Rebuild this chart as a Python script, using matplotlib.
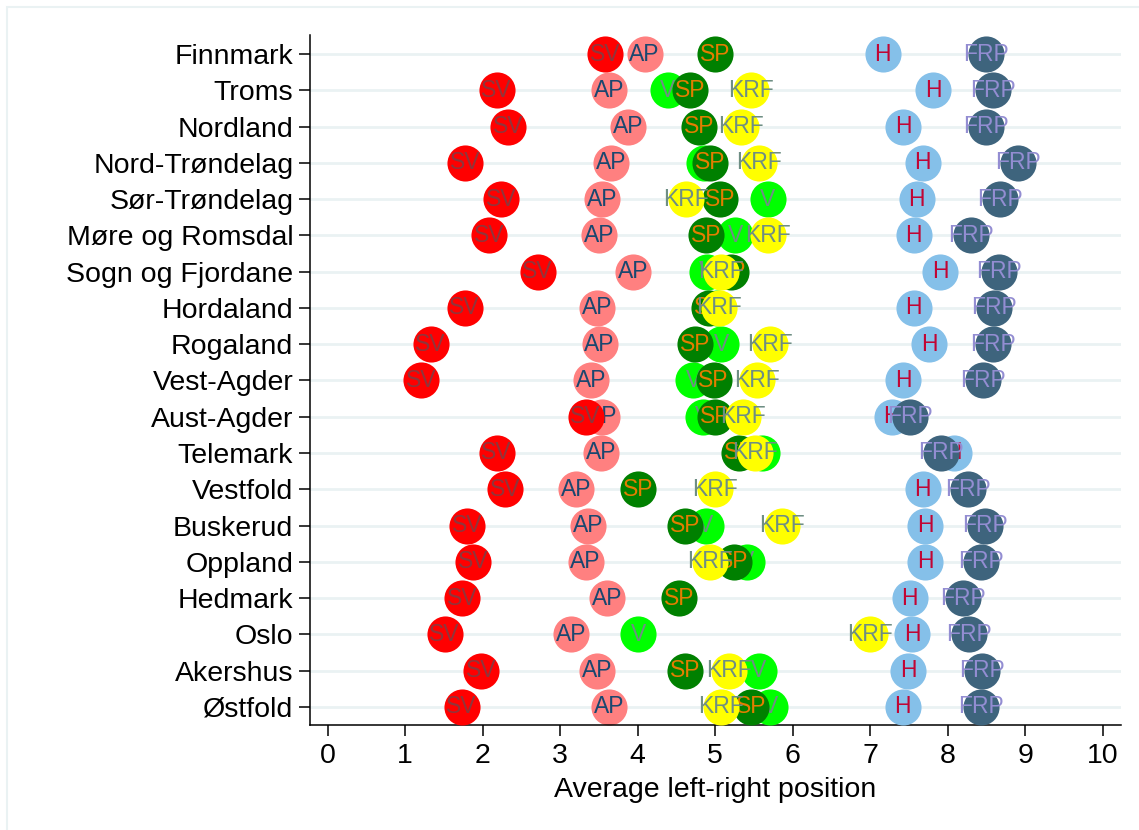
import numpy as np
import matplotlib
matplotlib.use('Agg')
import matplotlib.pyplot as plt
from matplotlib.patches import Rectangle

plt.rcParams['font.family'] = ['Liberation Sans', 'DejaVu Sans']

nan = np.nan

regions = ['Finnmark', 'Troms', 'Nordland', 'Nord-Trøndelag', 'Sør-Trøndelag',
           'Møre og Romsdal', 'Sogn og Fjordane', 'Hordaland', 'Rogaland',
           'Vest-Agder', 'Aust-Agder', 'Telemark', 'Vestfold', 'Buskerud',
           'Oppland', 'Hedmark', 'Oslo', 'Akershus', 'Østfold']

# average left-right placement per party and county
sv = [3.58, 2.18, 2.33, 1.78, 2.24, 2.08, 2.71, 1.77, 1.33, 1.21,
      3.33, 2.18, 2.29, 1.80, 1.88, 1.74, 1.51, 1.98, 1.73]
ap = [4.09, 3.63, 3.88, 3.66, 3.54, 3.50, 3.94, 3.48, 3.51, 3.40,
      3.54, 3.53, 3.21, 3.36, 3.33, 3.61, 3.14, 3.48, 3.63]
v = [nan, 4.39, nan, 4.86, 5.68, 5.26, 4.89, 5.02, 5.08, 4.72,
     4.84, 5.61, nan, 4.88, 5.41, nan, 4.01, 5.56, 5.71]
sp = [5.00, 4.68, 4.79, 4.94, 5.06, 4.88, 5.21, 4.92, 4.74, 4.98,
      5.00, 5.31, 4.01, 4.61, 5.24, 4.54, nan, 4.61, 5.46]
krf = [nan, 5.46, 5.33, 5.56, 4.63, 5.68, 5.08, 5.05, 5.71, 5.54,
       5.36, 5.51, 5.00, 5.86, 4.93, nan, 7.00, 5.18, 5.08]
h = [7.16, 7.81, 7.43, 7.68, 7.60, 7.56, 7.90, 7.56, 7.76, 7.43,
     7.28, 8.08, 7.68, 7.71, 7.71, 7.51, 7.54, 7.49, 7.42]
frp = [8.50, 8.58, 8.49, 8.91, 8.68, 8.30, 8.66, 8.60, 8.59, 8.46,
       7.51, 7.91, 8.26, 8.48, 8.43, 8.20, 8.28, 8.44, 8.43]

# drawing order: name, values, marker colour, label colour
parties = [
    ('AP', ap, '#FF8080', '#1A476F'),
    ('SV', sv, '#FF0000', '#90353B'),
    ('V', v, '#00FF00', '#6E8E84'),
    ('SP', sp, '#008000', '#E37E00'),
    ('KRF', krf, '#FFFF00', '#6E8E84'),
    ('H', h, '#85C0E9', '#C10534'),
    ('FRP', frp, '#3E647D', '#938DD2'),
]

fig = plt.figure(figsize=(11.39, 8.30), dpi=100)
fig.patches.append(Rectangle((7 / 1139, -0.1), 1.2, 1.1 - 7 / 830,
                             transform=fig.transFigure, fill=False,
                             edgecolor='#EAF2F3', linewidth=1.5))
ax = fig.add_axes([310 / 1139, 1 - 725 / 830, 810.5 / 1139, 690 / 830])

ypos = np.arange(len(regions))
for y in ypos:
    ax.axhline(y, color='#EAF2F3', linewidth=2.0, zorder=0)

z = 2
for name, vals, mcol, tcol in parties:
    vals = np.array(vals)
    ax.plot(vals, ypos, 'o', markersize=26, markerfacecolor=mcol,
            markeredgewidth=0, linestyle='none', zorder=z)
    for x, y in zip(vals, ypos):
        if not np.isnan(x):
            ax.text(x, y, name, ha='center', va='center', color=tcol,
                    fontsize=16.5, zorder=z + 0.5)
    z += 1

ax.set_xlim(-0.226, 10.23)
ax.set_ylim(18.5, -0.524)
ax.set_yticks(ypos)
ax.set_yticklabels(regions)
ax.set_xticks(range(0, 11))
ax.tick_params(axis='both', labelsize=20.5, length=8, width=1.1, color='black')
ax.tick_params(axis='y', pad=4)
ax.tick_params(axis='x', pad=5)
ax.set_xlabel('Average left-right position', fontsize=20.5, labelpad=6)

for s in ['top', 'right']:
    ax.spines[s].set_visible(False)
for s in ['left', 'bottom']:
    ax.spines[s].set_linewidth(1.1)

fig.savefig('out.png', dpi=100)
